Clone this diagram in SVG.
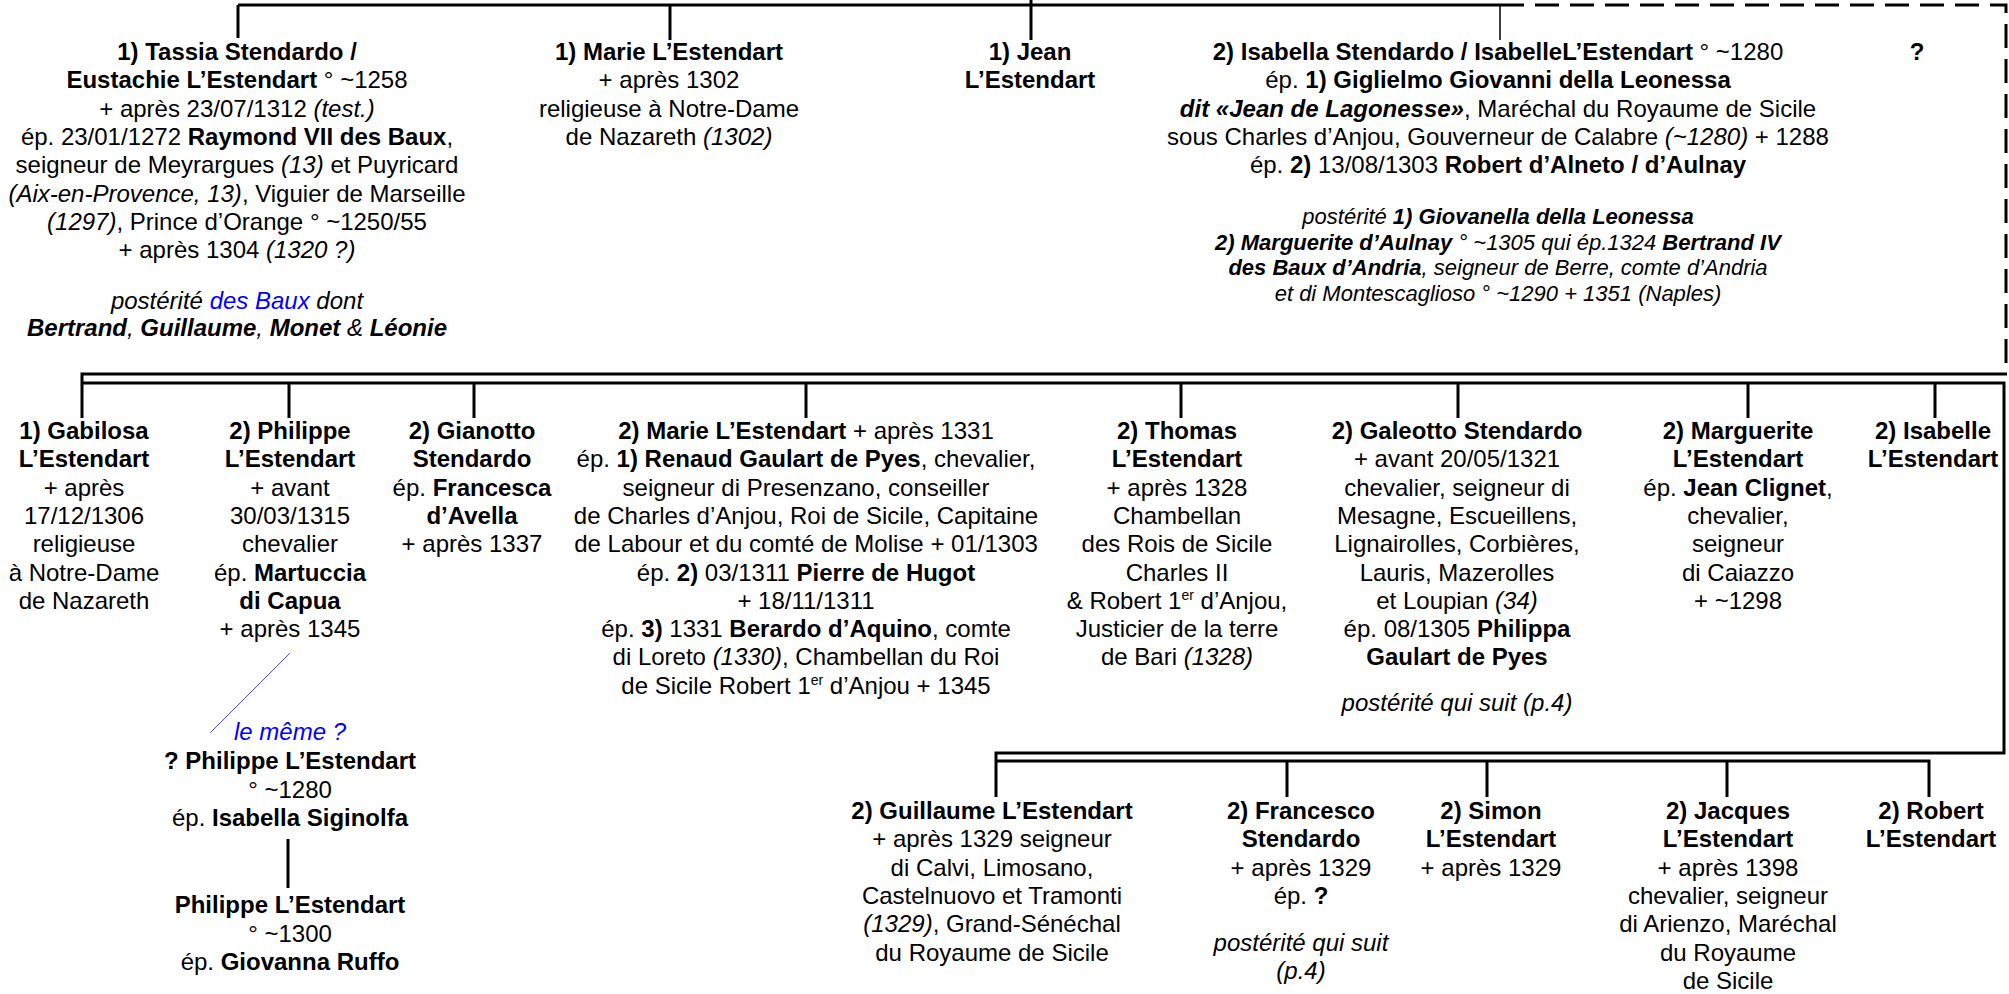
<svg xmlns="http://www.w3.org/2000/svg" width="2009" height="994" viewBox="0 0 2009 994">
<style>
text{font-family:"Liberation Sans",Arial,sans-serif;font-size:24px;text-anchor:middle;fill:#000}
.b{font-weight:bold}
.i{font-style:italic}
.s{font-size:22px}
.blue{fill:#0000ff}
.ln{stroke:#000;stroke-width:3;fill:none}
.thin{stroke-width:1.5}
.dash{stroke-dasharray:24 11}
.bl{stroke:#4d4dff;stroke-width:1;fill:none}
</style>
<rect width="2009" height="994" fill="#fff"/>
<g id="connectors">
<path class="ln" d="M238,5 H1500"/>
<path class="ln" d="M238,5 V38"/>
<path class="ln" d="M670,5 V40"/>
<path class="ln" d="M1031,0 V40"/>
<path class="ln thin" d="M1500,5 V40"/>
<path class="ln dash" d="M1500,5 H2006 V373"/>
<path class="ln" d="M2007,374 H82 V418"/>
<path class="ln" d="M82,383 H2004 V753 H996 V797"/>
<path class="ln" d="M996,761 H1929 V797"/>
<path class="ln" d="M289,383 V418 M474,383 V418 M806,383 V418 M1181,383 V418 M1458,383 V418 M1748,383 V418 M1935,383 V418"/>
<path class="ln" d="M1287,761 V797 M1487,761 V797 M1727,761 V797"/>
<path class="ln" d="M288,839 V888"/>
<path class="bl" d="M290,653 L210,733"/>
</g>
<g id="n_tassia">
<text x="237" y="60" class="b">1) Tassia Stendardo /</text>
<text x="237" y="88.3"><tspan class="b">Eustachie L’Estendart</tspan> ° ~1258</text>
<text x="237" y="116.6">+ après 23/07/1312 <tspan class="i">(test.)</tspan></text>
<text x="237" y="144.9">ép. 23/01/1272 <tspan class="b">Raymond VII des Baux</tspan>,</text>
<text x="237" y="173.2">seigneur de Meyrargues <tspan class="i">(13)</tspan> et Puyricard</text>
<text x="237" y="201.5"><tspan class="i">(Aix-en-Provence, 13)</tspan>, Viguier de Marseille</text>
<text x="237" y="229.8"><tspan class="i">(1297)</tspan>, Prince d’Orange ° ~1250/55</text>
<text x="237" y="258.1">+ après 1304 <tspan class="i">(1320 ?)</tspan></text>
<text x="237" y="309" class="i">postérité <tspan class="blue">des Baux</tspan> dont</text>
<text x="237" y="336" class="i"><tspan class="b">Bertrand</tspan>, <tspan class="b">Guillaume</tspan>, <tspan class="b">Monet</tspan> &amp; <tspan class="b">Léonie</tspan></text>
</g>
<g id="n_marie1">
<text x="669" y="60" class="b">1) Marie L’Estendart</text>
<text x="669" y="88.3">+ après 1302</text>
<text x="669" y="116.6">religieuse à Notre-Dame</text>
<text x="669" y="144.9">de Nazareth <tspan class="i">(1302)</tspan></text>
</g>
<g id="n_jean">
<text x="1030" y="60" class="b">1) Jean</text>
<text x="1030" y="88.3" class="b">L’Estendart</text>
</g>
<g id="n_isabella">
<text x="1498" y="60"><tspan class="b">2) Isabella Stendardo / IsabelleL’Estendart</tspan> ° ~1280</text>
<text x="1498" y="88.3">ép. <tspan class="b">1) Giglielmo Giovanni della Leonessa</tspan></text>
<text x="1498" y="116.6"><tspan class="b i">dit «Jean de Lagonesse»</tspan>, Maréchal du Royaume de Sicile</text>
<text x="1498" y="144.9">sous Charles d’Anjou, Gouverneur de Calabre <tspan class="i">(~1280)</tspan> + 1288</text>
<text x="1498" y="173.2">ép. <tspan class="b">2)</tspan> 13/08/1303 <tspan class="b">Robert d’Alneto / d’Aulnay</tspan></text>
<text x="1498" y="224" class="i s">postérité <tspan class="b">1) Giovanella della Leonessa</tspan></text>
<text x="1498" y="249.5" class="i s"><tspan class="b">2) Marguerite d’Aulnay</tspan> ° ~1305 qui ép.1324 <tspan class="b">Bertrand IV</tspan></text>
<text x="1498" y="275" class="i s"><tspan class="b">des Baux d’Andria</tspan>, seigneur de Berre, comte d’Andria</text>
<text x="1498" y="300.5" class="i s">et di Montescaglioso ° ~1290 + 1351 (Naples)</text>
</g>
<g id="n_unknown">
<text x="1917" y="60" class="b">?</text>
</g>
<g id="n_gabilosa">
<text x="84" y="439" class="b">1) Gabilosa</text>
<text x="84" y="467.3" class="b">L’Estendart</text>
<text x="84" y="495.6">+ après</text>
<text x="84" y="523.9">17/12/1306</text>
<text x="84" y="552.2">religieuse</text>
<text x="84" y="580.5">à Notre-Dame</text>
<text x="84" y="608.8">de Nazareth</text>
</g>
<g id="n_philippe">
<text x="290" y="439" class="b">2) Philippe</text>
<text x="290" y="467.3" class="b">L’Estendart</text>
<text x="290" y="495.6">+ avant</text>
<text x="290" y="523.9">30/03/1315</text>
<text x="290" y="552.2">chevalier</text>
<text x="290" y="580.5">ép. <tspan class="b">Martuccia</tspan></text>
<text x="290" y="608.8" class="b">di Capua</text>
<text x="290" y="637.1">+ après 1345</text>
</g>
<g id="n_philippe_b">
<text x="290" y="740" class="i blue">le même ?</text>
<text x="290" y="769" class="b">? Philippe L’Estendart</text>
<text x="290" y="798">° ~1280</text>
<text x="290" y="826">ép. <tspan class="b">Isabella Siginolfa</tspan></text>
</g>
<g id="n_philippe_c">
<text x="290" y="913" class="b">Philippe L’Estendart</text>
<text x="290" y="942">° ~1300</text>
<text x="290" y="970">ép. <tspan class="b">Giovanna Ruffo</tspan></text>
</g>
<g id="n_gianotto">
<text x="472" y="439" class="b">2) Gianotto</text>
<text x="472" y="467.3" class="b">Stendardo</text>
<text x="472" y="495.6">ép. <tspan class="b">Francesca</tspan></text>
<text x="472" y="523.9" class="b">d’Avella</text>
<text x="472" y="552.2">+ après 1337</text>
</g>
<g id="n_marie2">
<text x="806" y="439"><tspan class="b">2) Marie L’Estendart</tspan> + après 1331</text>
<text x="806" y="467.3">ép. <tspan class="b">1) Renaud Gaulart de Pyes</tspan>, chevalier,</text>
<text x="806" y="495.6">seigneur di Presenzano, conseiller</text>
<text x="806" y="523.9">de Charles d’Anjou, Roi de Sicile, Capitaine</text>
<text x="806" y="552.2">de Labour et du comté de Molise + 01/1303</text>
<text x="806" y="580.5">ép. <tspan class="b">2)</tspan> 03/1311 <tspan class="b">Pierre de Hugot</tspan></text>
<text x="806" y="608.8">+ 18/11/1311</text>
<text x="806" y="637.1">ép. <tspan class="b">3)</tspan> 1331 <tspan class="b">Berardo d’Aquino</tspan>, comte</text>
<text x="806" y="665.4">di Loreto <tspan class="i">(1330)</tspan>, Chambellan du Roi</text>
<text x="806" y="693.7">de Sicile Robert 1<tspan font-size="14" dy="-9">er</tspan><tspan dy="9"> d’Anjou + 1345</tspan></text>
</g>
<g id="n_thomas">
<text x="1177" y="439" class="b">2) Thomas</text>
<text x="1177" y="467.3" class="b">L’Estendart</text>
<text x="1177" y="495.6">+ après 1328</text>
<text x="1177" y="523.9">Chambellan</text>
<text x="1177" y="552.2">des Rois de Sicile</text>
<text x="1177" y="580.5">Charles II</text>
<text x="1177" y="608.8">&amp; Robert 1<tspan font-size="14" dy="-9">er</tspan><tspan dy="9"> d’Anjou,</tspan></text>
<text x="1177" y="637.1">Justicier de la terre</text>
<text x="1177" y="665.4">de Bari <tspan class="i">(1328)</tspan></text>
</g>
<g id="n_galeotto">
<text x="1457" y="439" class="b">2) Galeotto Stendardo</text>
<text x="1457" y="467.3">+ avant 20/05/1321</text>
<text x="1457" y="495.6">chevalier, seigneur di</text>
<text x="1457" y="523.9">Mesagne, Escueillens,</text>
<text x="1457" y="552.2">Lignairolles, Corbières,</text>
<text x="1457" y="580.5">Lauris, Mazerolles</text>
<text x="1457" y="608.8">et Loupian <tspan class="i">(34)</tspan></text>
<text x="1457" y="637.1">ép. 08/1305 <tspan class="b">Philippa</tspan></text>
<text x="1457" y="665.4" class="b">Gaulart de Pyes</text>
<text x="1457" y="711" class="i">postérité qui suit (p.4)</text>
</g>
<g id="n_marguerite">
<text x="1738" y="439" class="b">2) Marguerite</text>
<text x="1738" y="467.3" class="b">L’Estendart</text>
<text x="1738" y="495.6">ép. <tspan class="b">Jean Clignet</tspan>,</text>
<text x="1738" y="523.9">chevalier,</text>
<text x="1738" y="552.2">seigneur</text>
<text x="1738" y="580.5">di Caiazzo</text>
<text x="1738" y="608.8">+ ~1298</text>
</g>
<g id="n_isabelle">
<text x="1933" y="439" class="b">2) Isabelle</text>
<text x="1933" y="467.3" class="b">L’Estendart</text>
</g>
<g id="n_guillaume">
<text x="992" y="819" class="b">2) Guillaume L’Estendart</text>
<text x="992" y="847.3">+ après 1329 seigneur</text>
<text x="992" y="875.6">di Calvi, Limosano,</text>
<text x="992" y="903.9">Castelnuovo et Tramonti</text>
<text x="992" y="932.2"><tspan class="i">(1329)</tspan>, Grand-Sénéchal</text>
<text x="992" y="960.5">du Royaume de Sicile</text>
</g>
<g id="n_francesco">
<text x="1301" y="819" class="b">2) Francesco</text>
<text x="1301" y="847.3" class="b">Stendardo</text>
<text x="1301" y="875.6">+ après 1329</text>
<text x="1301" y="903.9">ép. <tspan class="b">?</tspan></text>
<text x="1301" y="951" class="i">postérité qui suit</text>
<text x="1301" y="979" class="i">(p.4)</text>
</g>
<g id="n_simon">
<text x="1491" y="819" class="b">2) Simon</text>
<text x="1491" y="847.3" class="b">L’Estendart</text>
<text x="1491" y="875.6">+ après 1329</text>
</g>
<g id="n_jacques">
<text x="1728" y="819" class="b">2) Jacques</text>
<text x="1728" y="847.3" class="b">L’Estendart</text>
<text x="1728" y="875.6">+ après 1398</text>
<text x="1728" y="903.9">chevalier, seigneur</text>
<text x="1728" y="932.2">di Arienzo, Maréchal</text>
<text x="1728" y="960.5">du Royaume</text>
<text x="1728" y="988.8">de Sicile</text>
</g>
<g id="n_robert">
<text x="1931" y="819" class="b">2) Robert</text>
<text x="1931" y="847.3" class="b">L’Estendart</text>
</g>
</svg>
